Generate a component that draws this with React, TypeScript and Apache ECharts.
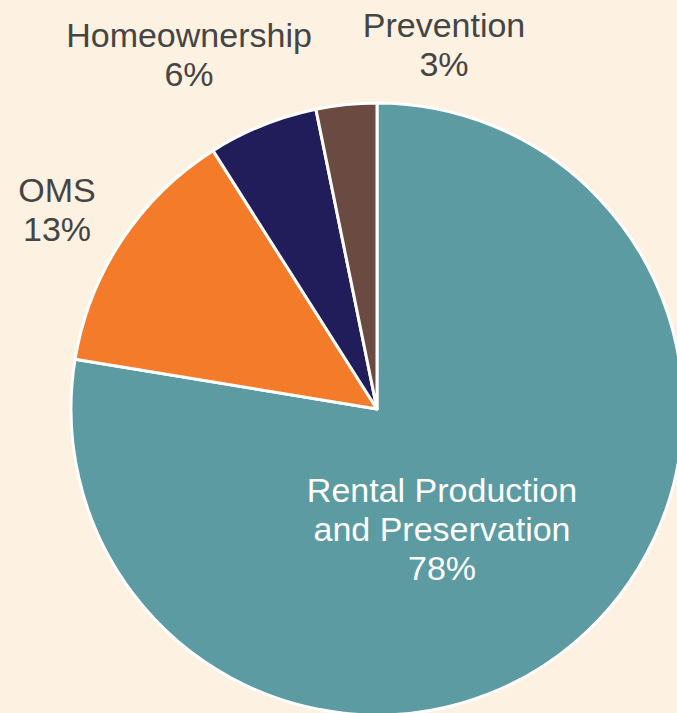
import React, { useEffect, useRef } from "react";
import * as echarts from "echarts";

const categories = ["Rental Production and Preservation", "OMS", "Homeownership", "Prevention"];
const labelTexts = ["Rental Production\nand Preservation", "OMS", "Homeownership", "Prevention"];
const values = [77.6, 13.4, 5.8, 3.2];
const colors = ["#5B9BA1", "#F47B2A", "#201D5A", "#6B4A42"];
const labelAnchors = [
  [442, 529],
  [57, 209],
  [189, 54],
  [444, 44],
];

export default function App() {
  const ref = useRef<HTMLDivElement>(null);
  useEffect(() => {
    if (!ref.current) return;
    const chart = echarts.init(ref.current, null, { renderer: "svg" });
    chart.setOption({
      animation: false,
      backgroundColor: "#FDF1E1",
      series: [
        {
          type: "pie",
          center: [377, 409],
          radius: 306,
          startAngle: 90,
          clockwise: true,
          avoidLabelOverlap: false,
          percentPrecision: 0,
          itemStyle: { borderColor: "#FFFFFF", borderWidth: 3 },
          label: {
            show: true,
            position: "outside",
            fontFamily: "Liberation Sans, Arial, sans-serif",
            fontSize: 34,
            lineHeight: 39,
            color: "#454545",
            align: "center",
            formatter: (p: any) => `${labelTexts[p.dataIndex]}\n${p.percent}%`,
          },
          labelLine: { show: false },
          labelLayout: (params: any) => {
            const a = labelAnchors[params.dataIndex];
            return { x: a[0], y: a[1], align: "center", verticalAlign: "middle" };
          },
          data: categories.map((c, i) => ({
            name: c,
            value: values[i],
            itemStyle: { color: colors[i] },
            label: i === 0 ? { position: "inside", color: "#FFFFFF" } : undefined,
          })),
        },
      ],
    });
    return () => chart.dispose();
  }, []);
  return (
    <div
      ref={ref}
      style={{ position: "fixed", left: 0, top: 0, width: 677, height: 713 }}
    />
  );
}
